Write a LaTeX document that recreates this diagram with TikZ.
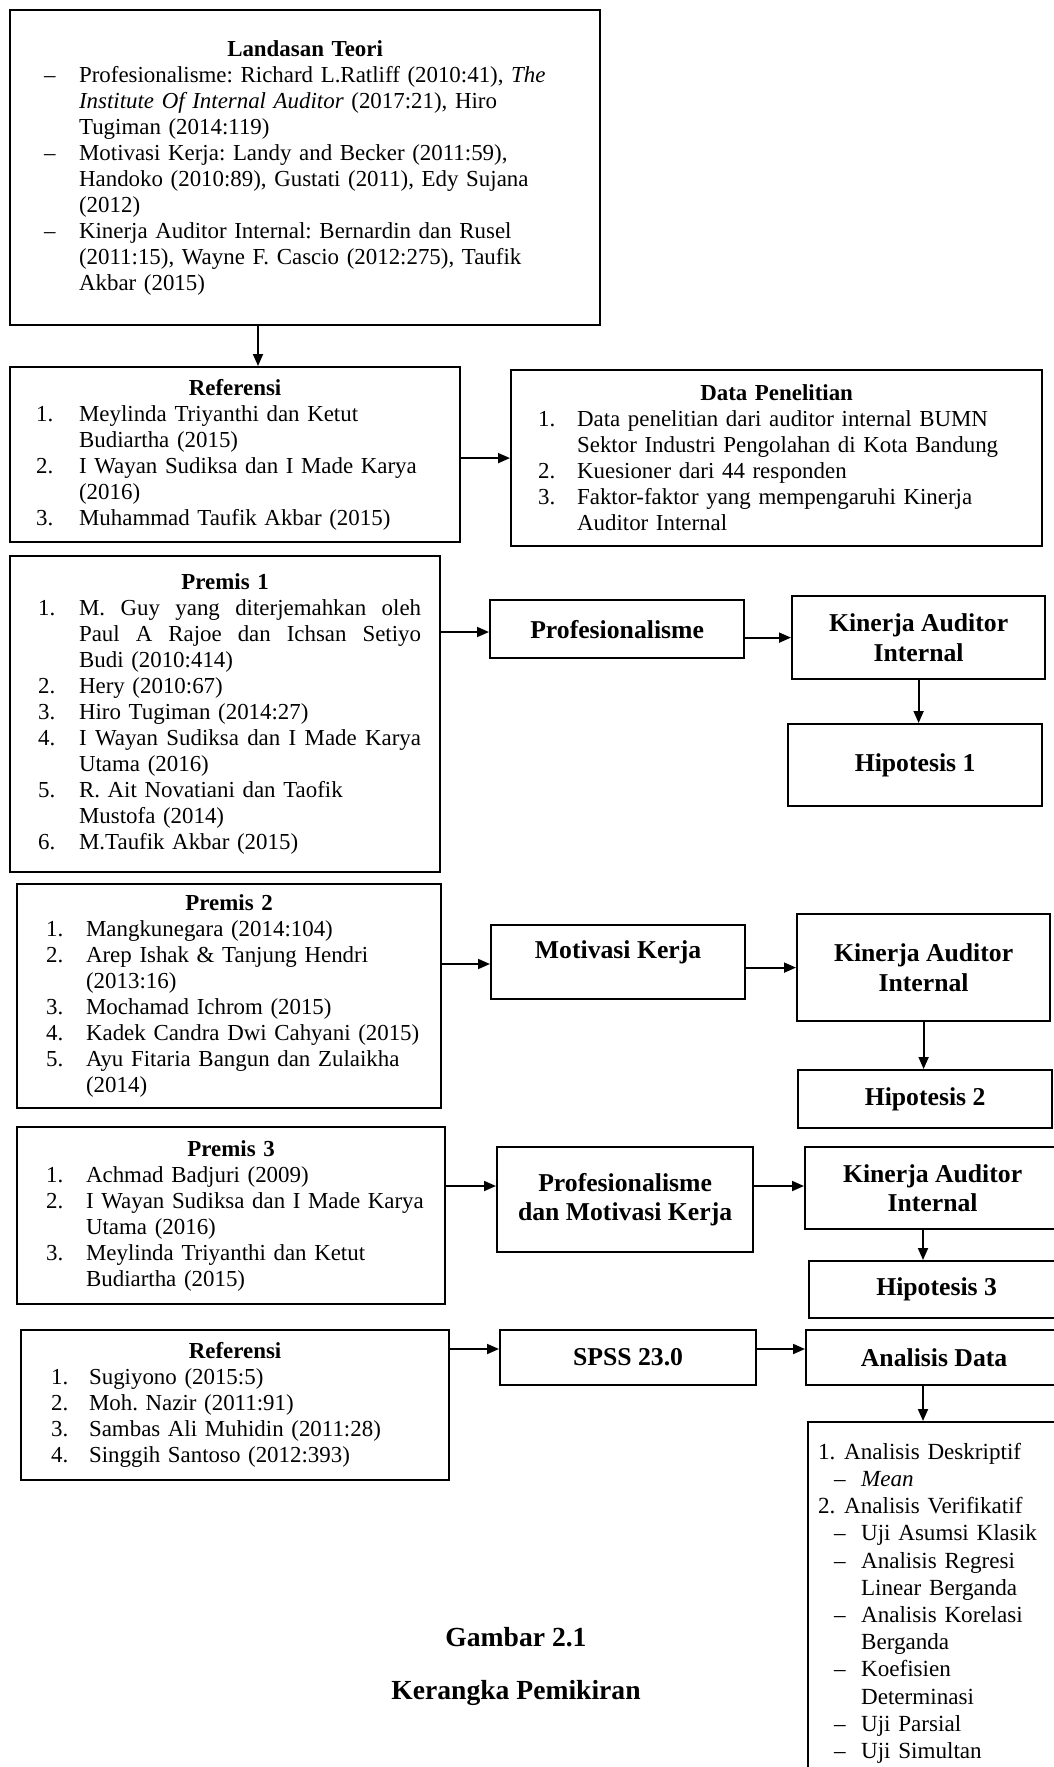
\documentclass[tikz,border=0pt]{standalone}
\usepackage{fontspec}
\setmainfont{Liberation Serif}
\usetikzlibrary{arrows.meta,calc}
\frenchspacing
\newlength{\offs}\newlength{\inds}
\newcommand{\hd}[1]{\makebox[\linewidth]{\bfseries #1}}
\newcommand{\li}[2]{\hspace*{\offs}\makebox[\inds][l]{#1}#2}
\newcommand{\lc}[1]{\hspace*{\offs}\hspace*{\inds}#1}
\newcommand{\jw}{\hspace{0pt plus 1fill}}
\newcommand{\lna}[2]{\hspace*{10pt}\makebox[26pt][l]{#1}#2}
\newcommand{\lsa}[1]{\hspace*{26pt}\makebox[27pt][l]{–}#1}
\newcommand{\lsc}[1]{\hspace*{53pt}#1}
\begin{document}
\begin{tikzpicture}[x=1pt,y=-1pt,
  box/.style={draw, line width=2.2pt, inner sep=0pt, anchor=north west},
  txtbox/.style 2 args={box, text width=#1, minimum width=#1, minimum height=#2,
     align=left, font=\fontsize{22.9}{26}\selectfont},
  bbox/.style 2 args={box, minimum width=#1, minimum height=#2, align=center,
     font=\bfseries\fontsize{25.7}{29.5}\selectfont},
  arr/.style={line width=1.8pt, -{Triangle[length=12pt,width=10pt]}},
  captxt/.style={font=\bfseries\fontsize{27.6}{32}\selectfont}]
\useasboundingbox (0,0) rectangle (1054,1767);
\clip (0,0) rectangle (1054,1767);
\fill[white] (0,0) rectangle (1054,1767);

% left column
\node[txtbox={590pt}{315pt}] (lt) at (9,9) {\setlength{\offs}{34pt}\setlength{\inds}{35pt}%
\hd{Landasan Teori}\\
\li{–}{Profesionalisme: Richard L.Ratliff (2010:41), \textit{The}}\\
\lc{\textit{Institute Of Internal Auditor} (2017:21), Hiro}\\
\lc{Tugiman (2014:119)}\\
\li{–}{Motivasi Kerja: Landy and Becker (2011:59),}\\
\lc{Handoko (2010:89), Gustati (2011), Edy Sujana}\\
\lc{(2012)}\\
\li{–}{Kinerja Auditor Internal: Bernardin dan Rusel}\\
\lc{(2011:15), Wayne F. Cascio (2012:275), Taufik}\\
\lc{Akbar (2015)}};

\node[txtbox={450pt}{175pt}] (ref1) at (9,366) {\setlength{\offs}{26pt}\setlength{\inds}{43pt}%
\hd{Referensi}\\
\li{1.}{Meylinda Triyanthi dan Ketut}\\
\lc{Budiartha (2015)}\\
\li{2.}{I Wayan Sudiksa dan I Made Karya}\\
\lc{(2016)}\\
\li{3.}{Muhammad Taufik Akbar (2015)}};

\node[txtbox={531pt}{176pt}] (data) at (510,369) {\setlength{\offs}{27pt}\setlength{\inds}{39pt}%
\hd{Data Penelitian}\\
\li{1.}{Data penelitian dari auditor internal BUMN}\\
\lc{Sektor Industri Pengolahan di Kota Bandung}\\
\li{2.}{Kuesioner dari 44 responden}\\
\li{3.}{Faktor-faktor yang mempengaruhi Kinerja}\\
\lc{Auditor Internal}};

\node[txtbox={430pt}{316pt}] (p1) at (9,555) {\setlength{\offs}{28pt}\setlength{\inds}{41pt}%
\hd{Premis 1}\\
\li{1.}{\makebox[342pt][l]{M.\jw Guy\jw yang\jw diterjemahkan\jw oleh}}\\
\lc{\makebox[342pt][l]{Paul\jw A\jw Rajoe\jw dan\jw Ichsan\jw Setiyo}}\\
\lc{Budi (2010:414)}\\
\li{2.}{Hery (2010:67)}\\
\li{3.}{Hiro Tugiman (2014:27)}\\
\li{4.}{\makebox[342pt][l]{I\jw Wayan\jw Sudiksa\jw dan\jw I\jw Made\jw Karya}}\\
\lc{Utama (2016)}\\
\li{5.}{R. Ait Novatiani dan Taofik}\\
\lc{Mustofa (2014)}\\
\li{6.}{M.Taufik Akbar (2015)}};

\node[txtbox={424pt}{224pt}] (p2) at (16,883) {\setlength{\offs}{29pt}\setlength{\inds}{40pt}%
\hd{Premis 2}\\
\li{1.}{Mangkunegara (2014:104)}\\
\li{2.}{Arep Ishak \& Tanjung Hendri}\\
\lc{(2013:16)}\\
\li{3.}{Mochamad Ichrom (2015)}\\
\li{4.}{Kadek Candra Dwi Cahyani (2015)}\\
\li{5.}{Ayu Fitaria Bangun dan Zulaikha}\\
\lc{(2014)}};

\node[txtbox={428pt}{177pt}] (p3) at (16,1126) {\setlength{\offs}{29pt}\setlength{\inds}{40pt}%
\hd{Premis 3}\\
\li{1.}{Achmad Badjuri (2009)}\\
\li{2.}{I Wayan Sudiksa dan I Made Karya}\\
\lc{Utama (2016)}\\
\li{3.}{Meylinda Triyanthi dan Ketut}\\
\lc{Budiartha (2015)}};

\node[txtbox={428pt}{150pt}] (ref2) at (20,1329) {\setlength{\offs}{30pt}\setlength{\inds}{38pt}%
\hd{Referensi}\\
\li{1.}{Sugiyono (2015:5)}\\
\li{2.}{Moh. Nazir (2011:91)}\\
\li{3.}{Sambas Ali Muhidin (2011:28)}\\
\li{4.}{Singgih Santoso (2012:393)}};

% middle and right columns
\node[bbox={254pt}{58pt}] (prof) at (489,599) {Profesionalisme};
\node[bbox={253pt}{83pt}] (kin1) at (791,595) {Kinerja Auditor\\Internal};
\node[bbox={254pt}{82pt}] (hip1) at (787,723) {Hipotesis 1};

\node[bbox={254pt}{74pt}] (mot) at (490,924) {Motivasi Kerja\\[-5pt]\mbox{}};
\node[bbox={253pt}{107pt}] (kin2) at (796,913) {Kinerja Auditor\\Internal};
\node[bbox={254pt}{58pt}] (hip2) at (797,1069) {Hipotesis 2};

\node[bbox={256pt}{105pt}] (pm) at (496,1146) {Profesionalisme\\dan Motivasi Kerja};
\node[bbox={255pt}{82pt}] (kin3) at (804,1146) {Kinerja Auditor\\Internal};
\node[bbox={255pt}{57pt}] (hip3) at (808,1260) {Hipotesis 3};

\node[bbox={256pt}{55pt}] (spss) at (499,1329) {SPSS 23.0};
\node[bbox={256pt}{55pt}] (ad) at (805,1329) {Analisis Data};

\node[box, text width=260pt, inner ysep=21pt, align=left,
      font=\fontsize{23.1}{27.2}\selectfont] (lst) at (807,1421) {%
\lna{1.}{Analisis Deskriptif}\\
\lsa{\textit{Mean}}\\
\lna{2.}{Analisis Verifikatif}\\
\lsa{Uji Asumsi Klasik}\\
\lsa{Analisis Regresi}\\
\lsc{Linear Berganda}\\
\lsa{Analisis Korelasi}\\
\lsc{Berganda}\\
\lsa{Koefisien}\\
\lsc{Determinasi}\\
\lsa{Uji Parsial}\\
\lsa{Uji Simultan}\\[60pt]\mbox{}};

\node[captxt] (cap1) at (516,1637) {Gambar 2.1};
\node[captxt] (cap2) at (516,1693) {Kerangka Pemikiran};

% connectors
\coordinate (x1) at (258,0);
\coordinate (y1) at (0,632);
\coordinate (y2) at (0,964);
\coordinate (y3) at (0,1186);
\coordinate (x3) at (923,0);
\coordinate (y4) at (0,1349);
\draw[arr] (lt.south -| x1) -- (ref1.north -| x1);
\draw[arr] (ref1.east |- data.west) -- (data.west);
\draw[arr] (p1.east |- y1) -- (prof.west |- y1);
\draw[arr] (prof.east |- kin1.west) -- (kin1.west);
\draw[arr] (kin1.south) -- (hip1.north -| kin1.south);
\draw[arr] (p2.east |- y2) -- (mot.west |- y2);
\draw[arr] (mot.east |- kin2.west) -- (kin2.west);
\draw[arr] (kin2.south) -- (kin2.south |- hip2.north);
\draw[arr] (p3.east |- y3) -- (pm.west |- y3);
\draw[arr] (pm.east |- y3) -- (kin3.west |- y3);
\draw[arr] (kin3.south -| x3) -- (hip3.north -| x3);
\draw[arr] (ref2.east |- y4) -- (spss.west |- y4);
\draw[arr] (spss.east |- y4) -- (ad.west |- y4);
\draw[arr] (ad.south -| x3) -- (lst.north -| x3);
\end{tikzpicture}
\end{document}
